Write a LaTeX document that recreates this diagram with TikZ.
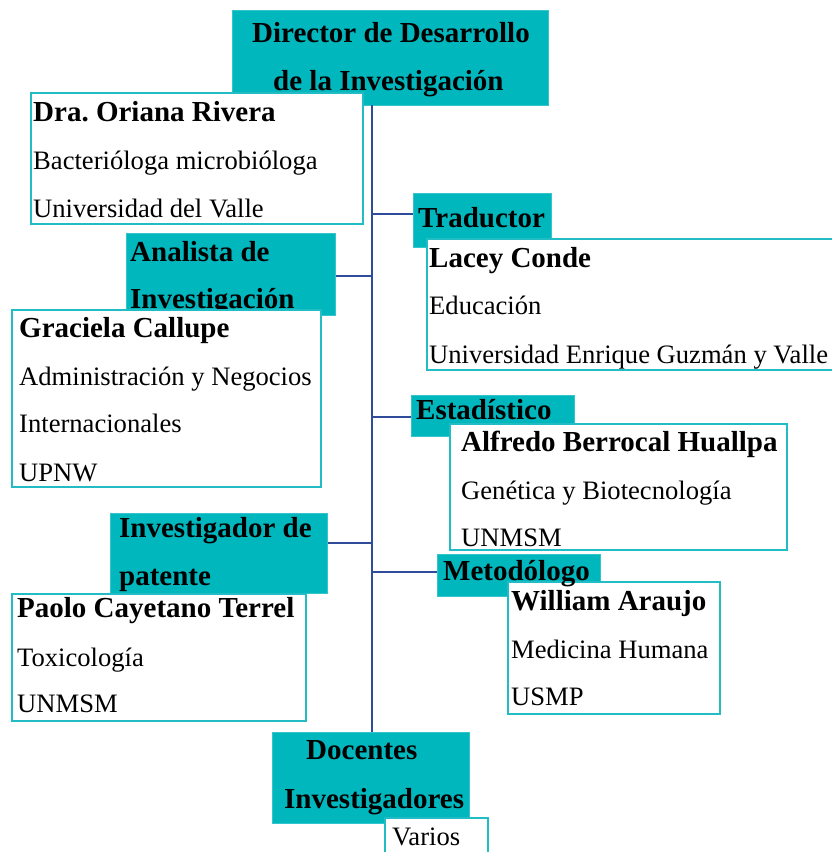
\documentclass[tikz,border=0pt]{standalone}
\usepackage{fontspec}
\setmainfont{Liberation Serif}
\frenchspacing
\definecolor{tealfill}{HTML}{00B7BE}
\definecolor{tealline}{HTML}{22BDC4}
\definecolor{trunkblue}{HTML}{2E4C9A}
\tikzset{
  rolebox/.style={fill=tealfill, draw=tealfill!80!white, line width=1pt, anchor=north west, inner sep=0pt},
  personbox/.style={fill=white, draw=tealline, line width=2pt, anchor=north west, inner sep=0pt},
  hd/.style={anchor=base west, inner sep=0pt, font=\fontsize{29}{30}\selectfont\bfseries},
  nm/.style={anchor=base west, inner sep=0pt, font=\fontsize{29}{30}\selectfont\bfseries},
  tx/.style={anchor=base west, inner sep=0pt, font=\fontsize{26.6}{28}\selectfont},
  link/.style={draw=trunkblue, line width=1.8pt}
}
\begin{document}
\begin{tikzpicture}[x=1pt,y=-1pt]
\useasboundingbox (0,0) rectangle (832,852);
% trunk coordinates
\coordinate (ttop) at (372,105);
\coordinate (tbot) at (372,732);
\coordinate (b1) at (372,214);
\coordinate (b2) at (372,276);
\coordinate (b3) at (372,417);
\coordinate (b4) at (372,543);
\coordinate (b5) at (372,572);
% role boxes
\node[rolebox, minimum width=316pt, minimum height=95pt] (dir) at (232,10) {};
\node[rolebox, minimum width=138pt, minimum height=54pt] (trad) at (413,193) {};
\node[rolebox, minimum width=209pt, minimum height=82pt] (anal) at (126,233) {};
\node[rolebox, minimum width=163pt, minimum height=41pt] (estad) at (411,395) {};
\node[rolebox, minimum width=163pt, minimum height=42pt] (metod) at (437,554) {};
\node[rolebox, minimum width=217pt, minimum height=80pt] (inv) at (110,513) {};
\node[rolebox, minimum width=197pt, minimum height=91pt] (doc) at (272,732) {};
% connectors
\draw[link] (ttop) -- (tbot);
\draw[link] (b1) -- (trad.west |- b1);
\draw[link] (b2) -- (anal.east |- b2);
\draw[link] (b3) -- (estad.west |- b3);
\draw[link] (b4) -- (inv.east |- b4);
\draw[link] (b5) -- (metod.west |- b5);
% role titles
\node[hd] (dirA) at (252,42) {Director de Desarrollo};
\node[hd] (dirB) at (273,90) {de la Investigación};
\node[hd] (tradT) at (418,227) {Traductor};
\node[hd] (analA) at (130,261) {Analista de};
\node[hd] (analB) at (130,308) {Investigación};
\node[hd] (estadT) at (416,419) {Estadístico};
\node[hd] (invA) at (119,537) {Investigador de};
\node[hd] (invB) at (119,585) {patente};
\node[hd] (docA) at (306,759) {Docentes};
\node[hd] (docB) at (284,808) {Investigadores};
% person boxes
\node[personbox, minimum width=332pt, minimum height=131pt] (oriana) at (30,92) {};
\node[personbox, minimum width=408pt, minimum height=131pt] (lacey) at (426,238) {};
\node[personbox, minimum width=309pt, minimum height=177pt] (graciela) at (11,309) {};
\node[personbox, minimum width=337pt, minimum height=126pt] (alfredo) at (449,423) {};
\node[personbox, minimum width=212pt, minimum height=132pt] (william) at (507,581) {};
\node[personbox, minimum width=294pt, minimum height=127pt] (paolo) at (11,593) {};
\node[personbox, minimum width=103pt, minimum height=45pt] (varios) at (384,817) {};
\node[hd] (metodT) at (443,580) {Metodólogo};
% person texts
\node[nm] (oA) at (33,121) {Dra.\ Oriana Rivera};
\node[tx] (oB) at (33,169) {Bacterióloga microbióloga};
\node[tx] (oC) at (33,217) {Universidad del Valle};
\node[nm] (lA) at (429,267) {Lacey Conde};
\node[tx] (lB) at (429,314) {Educación};
\node[tx] (lC) at (429,363) {Universidad Enrique Guzmán y Valle};
\node[nm] (gA) at (19,337) {Graciela Callupe};
\node[tx] (gB) at (19,385) {Administración y Negocios};
\node[tx] (gC) at (19,432) {Internacionales};
\node[tx] (gD) at (19,481) {UPNW};
\node[nm] (aA) at (461,451) {Alfredo Berrocal Huallpa};
\node[tx] (aB) at (461,499) {Genética y Biotecnología};
\node[tx] (aC) at (461,546) {UNMSM};
\node[nm] (wA) at (511,610) {William Araujo};
\node[tx] (wB) at (511,658) {Medicina Humana};
\node[tx] (wC) at (511,705) {USMP};
\node[nm] (pA) at (17,617) {Paolo Cayetano Terrel};
\node[tx] (pB) at (17,666) {Toxicología};
\node[tx] (pC) at (17,712) {UNMSM};
\node[tx] (vA) at (392,845) {Varios};
\end{tikzpicture}
\end{document}
